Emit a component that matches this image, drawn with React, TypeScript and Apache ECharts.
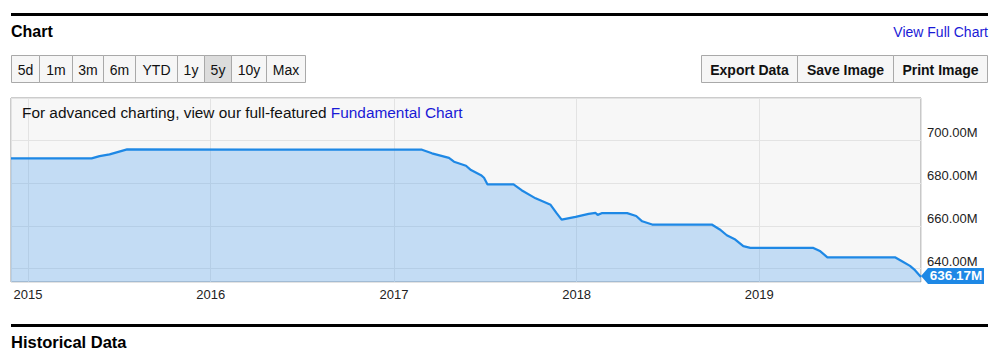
import React, { useEffect, useRef } from "react";
import * as echarts from "echarts";

// ---- data ----
const dates: string[] = [
  "2014-11-28", "2015-05-08", "2015-05-24", "2015-06-13", "2015-06-27", "2015-07-18",
  "2016-04-26", "2017-02-26", "2017-03-18", "2017-04-21", "2017-05-01", "2017-05-25",
  "2017-06-04", "2017-06-24", "2017-06-30", "2017-07-07", "2017-08-28", "2017-09-13",
  "2017-10-11", "2017-11-10", "2017-11-22", "2017-12-02", "2017-12-30", "2018-01-25",
  "2018-02-08", "2018-02-12", "2018-02-20", "2018-04-12", "2018-04-30", "2018-05-12",
  "2018-06-01", "2018-09-28", "2018-10-14", "2018-10-28", "2018-11-14", "2018-11-30",
  "2018-12-14", "2019-04-19", "2019-05-03", "2019-05-17", "2019-09-29", "2019-10-13",
  "2019-10-29", "2019-11-08", "2019-11-20",
];
const sharesOutstandingM: number[] = [
  691.45, 691.45, 692.5, 693.3, 694.25, 695.65,
  695.5, 695.5, 693.8, 691.7, 689.9, 688.0,
  686.0, 683.6, 682.4, 679.3, 679.3, 676.6,
  672.8, 669.8, 665.9, 662.9, 664.2, 665.6,
  666.0, 665.1, 665.9, 665.9, 664.6, 662.1,
  660.6, 660.6, 658.3, 655.6, 653.6, 650.5,
  649.7, 649.7, 648.1, 645.3, 645.3, 643.5,
  641.3, 639.3, 636.17,
];
const yTickValues: number[] = [640, 660, 680, 700];
const rangeButtons: string[] = ["5d", "1m", "3m", "6m", "YTD", "1y", "5y", "10y", "Max"];
const activeRange = "5y";
const actionButtons: string[] = ["Export Data", "Save Image", "Print Image"];

// ---- layout ----
const rangeEdges = [11, 39, 72, 103, 135, 177, 204, 231, 266, 305];
const actionEdges = [701, 797, 893, 987];
const FONT = "'Liberation Sans', Arial, Helvetica, sans-serif";

export default function App() {
  const ref = useRef<HTMLDivElement>(null);

  useEffect(() => {
    if (!ref.current) return;
    const chart = echarts.init(ref.current, undefined, { renderer: "svg" });
    const seriesData = dates.map((d, i) => [d, sharesOutstandingM[i]]);
    const lastIdx = dates.length - 1;

    const graphics: any[] = [];
    // top rule
    graphics.push({ type: "rect", shape: { x: 11, y: 13, width: 977, height: 3 }, style: { fill: "#000" }, silent: true });
    graphics.push({ type: "text", style: { text: "Chart", x: 11, y: 31, verticalAlign: "middle", fontFamily: FONT, fontSize: 16, fontWeight: "bold", fill: "#000" } });
    graphics.push({ type: "text", style: { text: "View Full Chart", x: 988, y: 32, align: "right", verticalAlign: "middle", fontFamily: FONT, fontSize: 14, fill: "#1a1ad6" } });
    rangeButtons.forEach((b, i) => {
      const x0 = rangeEdges[i], x1 = rangeEdges[i + 1];
      graphics.push({ type: "rect", shape: { x: x0 + 0.5, y: 55.5, width: x1 - x0, height: 27 }, style: { fill: b === activeRange ? "#dcdcdc" : "#f6f6f6", stroke: "#a9a9a9", lineWidth: 1 } });
      graphics.push({ type: "text", style: { text: b, x: (x0 + x1) / 2 + 0.5, y: 69.5, align: "center", verticalAlign: "middle", fontFamily: FONT, fontSize: 14, fill: "#111" } });
    });
    actionButtons.forEach((b, i) => {
      const x0 = actionEdges[i], x1 = actionEdges[i + 1];
      graphics.push({ type: "rect", shape: { x: x0 + 0.5, y: 55.5, width: x1 - x0, height: 27 }, style: { fill: "#f6f6f6", stroke: "#a9a9a9", lineWidth: 1 } });
      graphics.push({ type: "text", style: { text: b, x: (x0 + x1) / 2 + 0.5, y: 69.5, align: "center", verticalAlign: "middle", fontFamily: FONT, fontSize: 14, fontWeight: "bold", fill: "#111" } });
    });
    graphics.push({
      type: "text",
      z: 100,
      style: {
        text: "{a|For advanced charting, view our full-featured }{b|Fundamental Chart}",
        x: 22, y: 112, verticalAlign: "middle", fontFamily: FONT, fontSize: 15.4,
        rich: { a: { fill: "#111", fontFamily: FONT, fontSize: 15.4 }, b: { fill: "#1a1ad6", fontFamily: FONT, fontSize: 15.4 } },
      },
    });
    // bottom rule + heading
    graphics.push({ type: "rect", shape: { x: 11, y: 324, width: 977, height: 3 }, style: { fill: "#000" }, silent: true });
    graphics.push({ type: "text", style: { text: "Historical Data", x: 11, y: 342, verticalAlign: "middle", fontFamily: FONT, fontSize: 16.5, fontWeight: "bold", fill: "#000" } });

    chart.setOption({
      animation: false,
      textStyle: { fontFamily: FONT },
      grid: {
        left: 11, right: 87, top: 98, bottom: 74,
        show: true, backgroundColor: "#f7f7f7", borderColor: "#999", borderWidth: 1,
        containLabel: false,
      },
      xAxis: {
        type: "time",
        min: dates[0],
        max: dates[lastIdx],
        splitNumber: 5,
        axisLine: { show: false },
        axisTick: { show: false },
        splitLine: { show: true, lineStyle: { color: "#e3e3e3", width: 1 } },
        axisLabel: {
          color: "#222",
          fontSize: 13,
          margin: 6,
          hideOverlap: false,
          formatter: (v: number) => {
            const d = new Date(v);
            return d.getMonth() === 0 && d.getDate() === 1 ? String(d.getFullYear()) : "";
          },
        },
      },
      yAxis: {
        type: "value",
        position: "right",
        min: 633.8,
        max: 719.6,
        splitNumber: 4,
        axisLine: { show: false },
        axisTick: { show: false },
        splitLine: { show: true, lineStyle: { color: "#e3e3e3", width: 1 } },
        axisLabel: {
          color: "#222",
          fontSize: 13,
          margin: 6,
          verticalAlign: "bottom",
          padding: [0, 0, 1, 0],
          showMinLabel: false,
          showMaxLabel: false,
          formatter: (v: number) => {
            const r = Math.round(v);
            return Math.abs(v - r) < 1e-6 && yTickValues.includes(r) ? r.toFixed(2) + "M" : "";
          },
        },
      },
      series: [
        {
          type: "line",
          data: seriesData,
          showSymbol: false,
          symbol: "none",
          lineStyle: { color: "#1e88e5", width: 2.2 },
          areaStyle: { color: "rgba(77,160,237,0.3)", opacity: 1 },
          z: 2,
          markPoint: {
            symbol: "path://M0,8 L7,0 L63,0 L63,16 L7,16 Z",
            symbolSize: [63, 16],
            symbolOffset: [31.5, -1],
            itemStyle: { color: "#1e88e5" },
            label: {
              show: true,
              position: "inside",
              offset: [3.5, 0],
              color: "#fff",
              fontWeight: "bold",
              fontSize: 13.5,
              fontFamily: FONT,
              formatter: (p: any) => p.value.toFixed(2) + "M",
            },
            data: [{ coord: [dates[lastIdx], sharesOutstandingM[lastIdx]], value: sharesOutstandingM[lastIdx] }],
          },
        },
      ],
      graphic: graphics,
    });
    return () => chart.dispose();
  }, []);

  return (
    <div
      ref={ref}
      style={{ position: "fixed", left: 0, top: 0, width: 1008, height: 356, background: "#fff" }}
    />
  );
}
